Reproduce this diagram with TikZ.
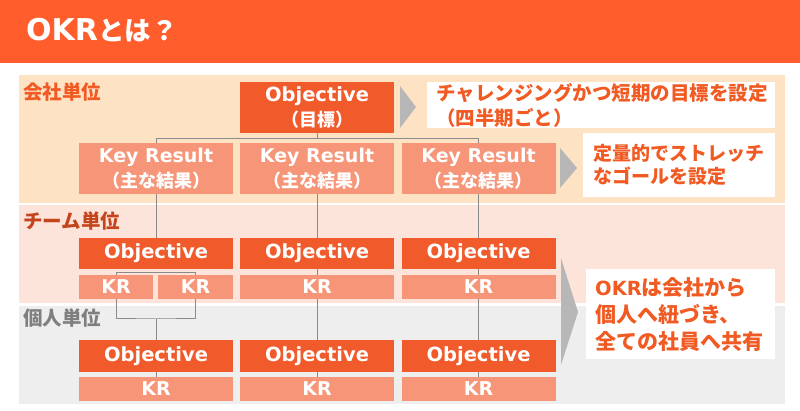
\documentclass[tikz,border=0pt]{standalone}
\usepackage{fontspec}
\setmainfont{Noto Sans CJK JP}
\newfontfamily\latinfont{DejaVu Sans}
\usetikzlibrary{calc}

\definecolor{headcol}{HTML}{FF5D2B}
\definecolor{objcol}{HTML}{F15A2A}
\definecolor{krcol}{HTML}{F69577}
\definecolor{compcol}{HTML}{FDE2C4}
\definecolor{teamcol}{HTML}{FDE4DB}
\definecolor{perscol}{HTML}{EEEEEE}
\definecolor{notecol}{HTML}{F15A22}
\definecolor{teamtext}{HTML}{C4451C}
\definecolor{perstext}{HTML}{7F7F7F}
\definecolor{arrowcol}{HTML}{B7B7B7}
\definecolor{linecol}{HTML}{8A8A8A}

\newcommand\fsz[2]{\fontsize{#1}{#2}\selectfont}
\newcommand\lt[1]{{\latinfont #1}}

\pgfdeclarelayer{bands}
\pgfdeclarelayer{wires}
\pgfsetlayers{bands,wires,main}

\begin{document}
\begin{tikzpicture}[x=1pt, y=-1pt,
    objbox/.style={rectangle, inner sep=0pt, fill=objcol, text=white,
        font=\bfseries\fsz{18}{25}, align=center, minimum width=154pt},
    krbox/.style={objbox, fill=krcol},
    notebox/.style={rectangle, fill=white, text=notecol, anchor=north west,
        align=left, inner ysep=0pt},
    levellabel/.style={anchor=west, inner sep=0pt, font=\bfseries\fsz{19.5}{22}},
    conn/.style={draw=linecol, line width=1pt},
    pointer/.style={fill=arrowcol}
]
\useasboundingbox (0,0) rectangle (800,411);
% Header
\fill[headcol] (0,0) rectangle (800,63);
\node[anchor=west, inner sep=0pt, text=white, font=\bfseries\fsz{26.5}{30}] (title) at (26,30)
    {\lt{\fsz{30}{30}OKR}とは？};

% Level bands
\begin{pgfonlayer}{bands}
\fill[compcol] (19,75) rectangle (785,203);
\fill[teamcol] (19,205) rectangle (785,303);
\fill[perscol] (19,306) rectangle (785,404);
\end{pgfonlayer}
\node[levellabel, text=notecol] (lcomp) at (23,92) {会社単位};
\node[levellabel, text=teamtext] (lteam) at (23,221) {チーム単位};
\node[levellabel, text=perstext] (lpers) at (23,318) {個人単位};

% Company level
\node[objbox, minimum height=51pt] (cobj) at (317,107.5) {\lt{\fsz{19.5}{25}Objective}\\（目標）};
\node[krbox, minimum height=51pt] (ckr1) at (156,168.5) {\lt{\fsz{19}{24}Key Result}\\（主な結果）};
\node[krbox, minimum height=51pt] (ckr2) at (317,168.5) {\lt{\fsz{19}{24}Key Result}\\（主な結果）};
\node[krbox, minimum height=51pt] (ckr3) at (478.5,168.5) {\lt{\fsz{19}{24}Key Result}\\（主な結果）};

% Team level
\node[objbox, minimum height=31pt] (tobj1) at (156,253.5) {\lt{\fsz{19.5}{23}Objective}};
\node[objbox, minimum height=31pt] (tobj2) at (317,253.5) {\lt{\fsz{19.5}{23}Objective}};
\node[objbox, minimum height=31pt] (tobj3) at (478.5,253.5) {\lt{\fsz{19.5}{23}Objective}};
\node[krbox, minimum height=24pt, minimum width=74pt] (tkr1a) at (116,287) {\lt{\fsz{19}{23}KR}};
\node[krbox, minimum height=24pt, minimum width=75pt] (tkr1b) at (195.5,287) {\lt{\fsz{19}{23}KR}};
\node[krbox, minimum height=24pt] (tkr2) at (317,287) {\lt{\fsz{19}{23}KR}};
\node[krbox, minimum height=24pt] (tkr3) at (478.5,287) {\lt{\fsz{19}{23}KR}};

% Personal level
\node[objbox, minimum height=32pt] (pobj1) at (156,356) {\lt{\fsz{19.5}{23}Objective}};
\node[objbox, minimum height=32pt] (pobj2) at (317,356) {\lt{\fsz{19.5}{23}Objective}};
\node[objbox, minimum height=32pt] (pobj3) at (478.5,356) {\lt{\fsz{19.5}{23}Objective}};
\node[krbox, minimum height=24pt] (pkr1) at (156,389) {\lt{\fsz{19}{23}KR}};
\node[krbox, minimum height=24pt] (pkr2) at (317,389) {\lt{\fsz{19}{23}KR}};
\node[krbox, minimum height=24pt] (pkr3) at (478.5,389) {\lt{\fsz{19}{23}KR}};

% Connections
\begin{pgfonlayer}{wires}
\coordinate (hub) at ($(cobj.south)+(0,5)$);
\coordinate (join1) at (156,319);
\draw[conn] (cobj) -- (hub);
\draw[conn] (ckr1) |- (hub) -| (ckr3);
\draw[conn] (ckr1) -- (tobj1);
\draw[conn] (tkr1a) |- ([yshift=-3pt]tobj1.south) -| (tkr1b);
\draw[conn] (tkr1a) |- (join1) -| (tkr1b);
\draw[conn] (join1) -- (pobj1) -- (pkr1);
\draw[conn] (ckr2) -- (tobj2) -- (pobj2) -- (pkr2);
\draw[conn] (ckr3) -- (tobj3) -- (pobj3) -- (pkr3);
\end{pgfonlayer}

% Notes
\fill[pointer] (400,86) -- (416,107) -- (400,128) -- cycle;
\node[notebox, minimum width=348pt, minimum height=46pt, text width=330pt, inner xsep=9pt,
    font=\bfseries\fsz{19.5}{25}] (note1) at (427,82)
    {チャレンジングかつ短期の目標を設定\\（四半期ごと）};
\fill[pointer] (560,148) -- (577,168) -- (560,188) -- cycle;
\node[notebox, minimum width=192pt, minimum height=64pt, text width=172pt, inner xsep=10pt,
    font=\bfseries\fsz{19}{23}] (note2) at (583,133)
    {定量的でストレッチ\\なゴールを設定};
\fill[pointer] (561,258) -- (578,312) -- (561,365) -- cycle;
\node[notebox, minimum width=189pt, minimum height=90pt, text width=171pt, inner xsep=9pt,
    font=\bfseries\fsz{21}{27}] (note3) at (586,269)
    {\lt{\fsz{19.5}{27}OKR}は会社から\\個人へ紐づき、\\全ての社員へ共有};
\end{tikzpicture}
\end{document}
